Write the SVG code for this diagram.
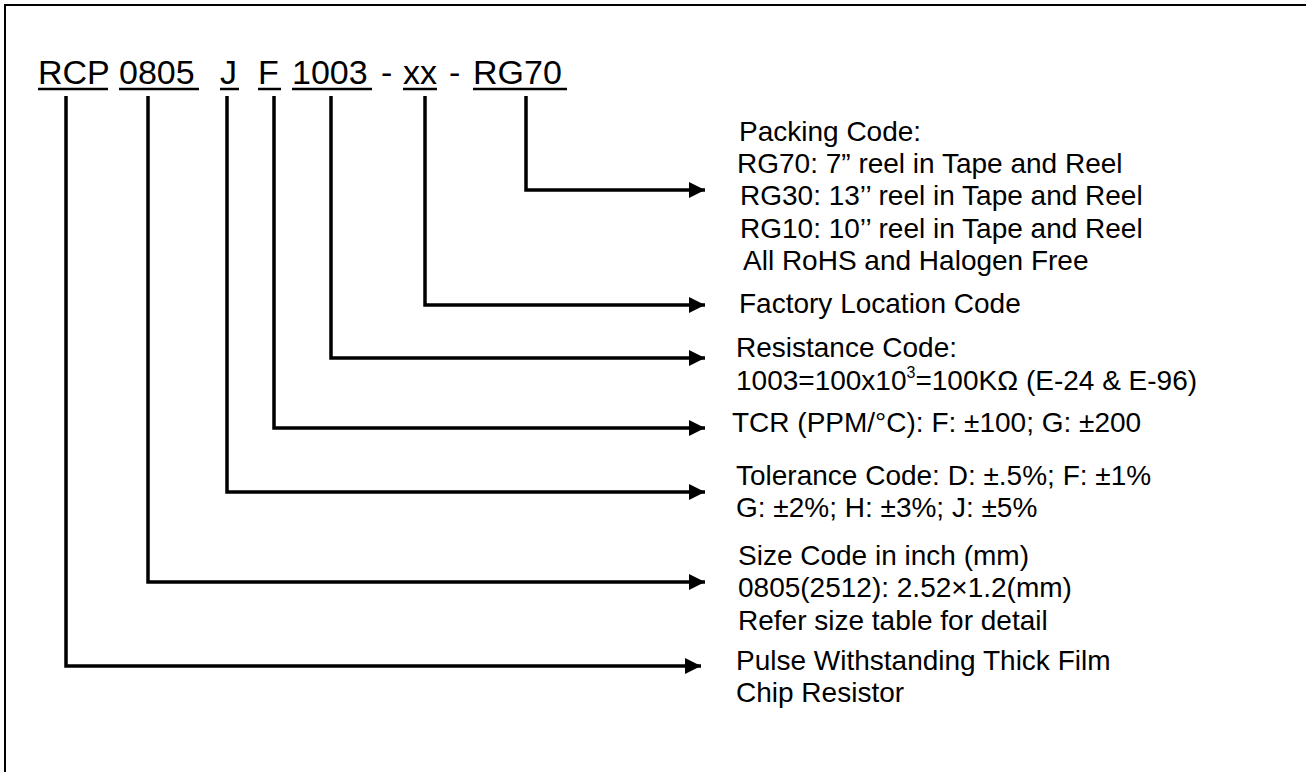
<svg xmlns="http://www.w3.org/2000/svg" width="1306" height="772" viewBox="0 0 1306 772">
<defs>
<style>
.t{font-family:"Liberation Sans",Arial,sans-serif;fill:#000}
.title{font-size:34px}
.lbl{font-size:28px}
.ul{stroke:#000;stroke-width:2.5}
.c{fill:none;stroke:#000;stroke-width:3.5}
</style>
<marker id="ah" markerWidth="16" markerHeight="16" viewBox="0 0 16 16" refX="16" refY="8" orient="auto" markerUnits="userSpaceOnUse">
<path d="M0,0 L16,8 L0,16 Z" fill="#000"/>
</marker>
</defs>
<rect width="1306" height="772" fill="#fff"/>
<path d="M5,772 V5 H1306" fill="none" stroke="#000" stroke-width="2"/>
<g id="code">
<text class="t title" x="38" y="84">RCP</text>
<text class="t title" x="119" y="84">0805</text>
<text class="t title" x="220" y="84">J</text>
<text class="t title" x="258" y="84">F</text>
<text class="t title" x="292" y="84">1003</text>
<text class="t title" x="381" y="84">-</text>
<text class="t title" x="403" y="84">xx</text>
<text class="t title" x="449" y="84">-</text>
<text class="t title" x="473" y="84">RG70</text>
<line class="ul" x1="38" y1="89" x2="108" y2="89"/>
<line class="ul" x1="119" y1="89" x2="199" y2="89"/>
<line class="ul" x1="220" y1="89" x2="239" y2="89"/>
<line class="ul" x1="258" y1="89" x2="281" y2="89"/>
<line class="ul" x1="292" y1="89" x2="372" y2="89"/>
<line class="ul" x1="403" y1="89" x2="437" y2="89"/>
<line class="ul" x1="473" y1="89" x2="567" y2="89"/>
</g>
<g id="connectors">
<path class="c" d="M526,96 V190 H705" marker-end="url(#ah)"/>
<path class="c" d="M425,96 V305 H705" marker-end="url(#ah)"/>
<path class="c" d="M331,96 V358 H705" marker-end="url(#ah)"/>
<path class="c" d="M274,96 V428 H705" marker-end="url(#ah)"/>
<path class="c" d="M227,96 V492 H705" marker-end="url(#ah)"/>
<path class="c" d="M148,96 V582 H705" marker-end="url(#ah)"/>
<path class="c" d="M66,96 V666 H701" marker-end="url(#ah)"/>
</g>
<g id="packing">
<text class="t lbl" x="739" y="141">Packing Code:</text>
<text class="t lbl" x="737" y="173">RG70: 7” reel in Tape and Reel</text>
<text class="t lbl" x="740" y="205">RG30: 13’’ reel in Tape and Reel</text>
<text class="t lbl" x="740" y="238">RG10: 10’’ reel in Tape and Reel</text>
<text class="t lbl" x="743" y="270">All RoHS and Halogen Free</text>
</g>
<g id="factory">
<text class="t lbl" x="739" y="313">Factory Location Code</text>
</g>
<g id="resistance">
<text class="t lbl" x="736" y="357">Resistance Code:</text>
<text class="t lbl" x="736" y="390">1003=100x10<tspan font-size="16" dy="-12">3</tspan><tspan dy="12">=100KΩ (E-24 &amp; E-96)</tspan></text>
</g>
<g id="tcr">
<text class="t lbl" x="732" y="432">TCR (PPM/°C): F: ±100; G: ±200</text>
</g>
<g id="tolerance">
<text class="t lbl" x="736" y="485">Tolerance Code: D: ±.5%; F: ±1%</text>
<text class="t lbl" x="736" y="517">G: ±2%; H: ±3%; J: ±5%</text>
</g>
<g id="size">
<text class="t lbl" x="738" y="565">Size Code in inch (mm)</text>
<text class="t lbl" x="738" y="597">0805(2512): 2.52×1.2(mm)</text>
<text class="t lbl" x="738" y="630">Refer size table for detail</text>
</g>
<g id="type">
<text class="t lbl" x="736" y="670">Pulse Withstanding Thick Film</text>
<text class="t lbl" x="736" y="702">Chip Resistor</text>
</g>
</svg>
